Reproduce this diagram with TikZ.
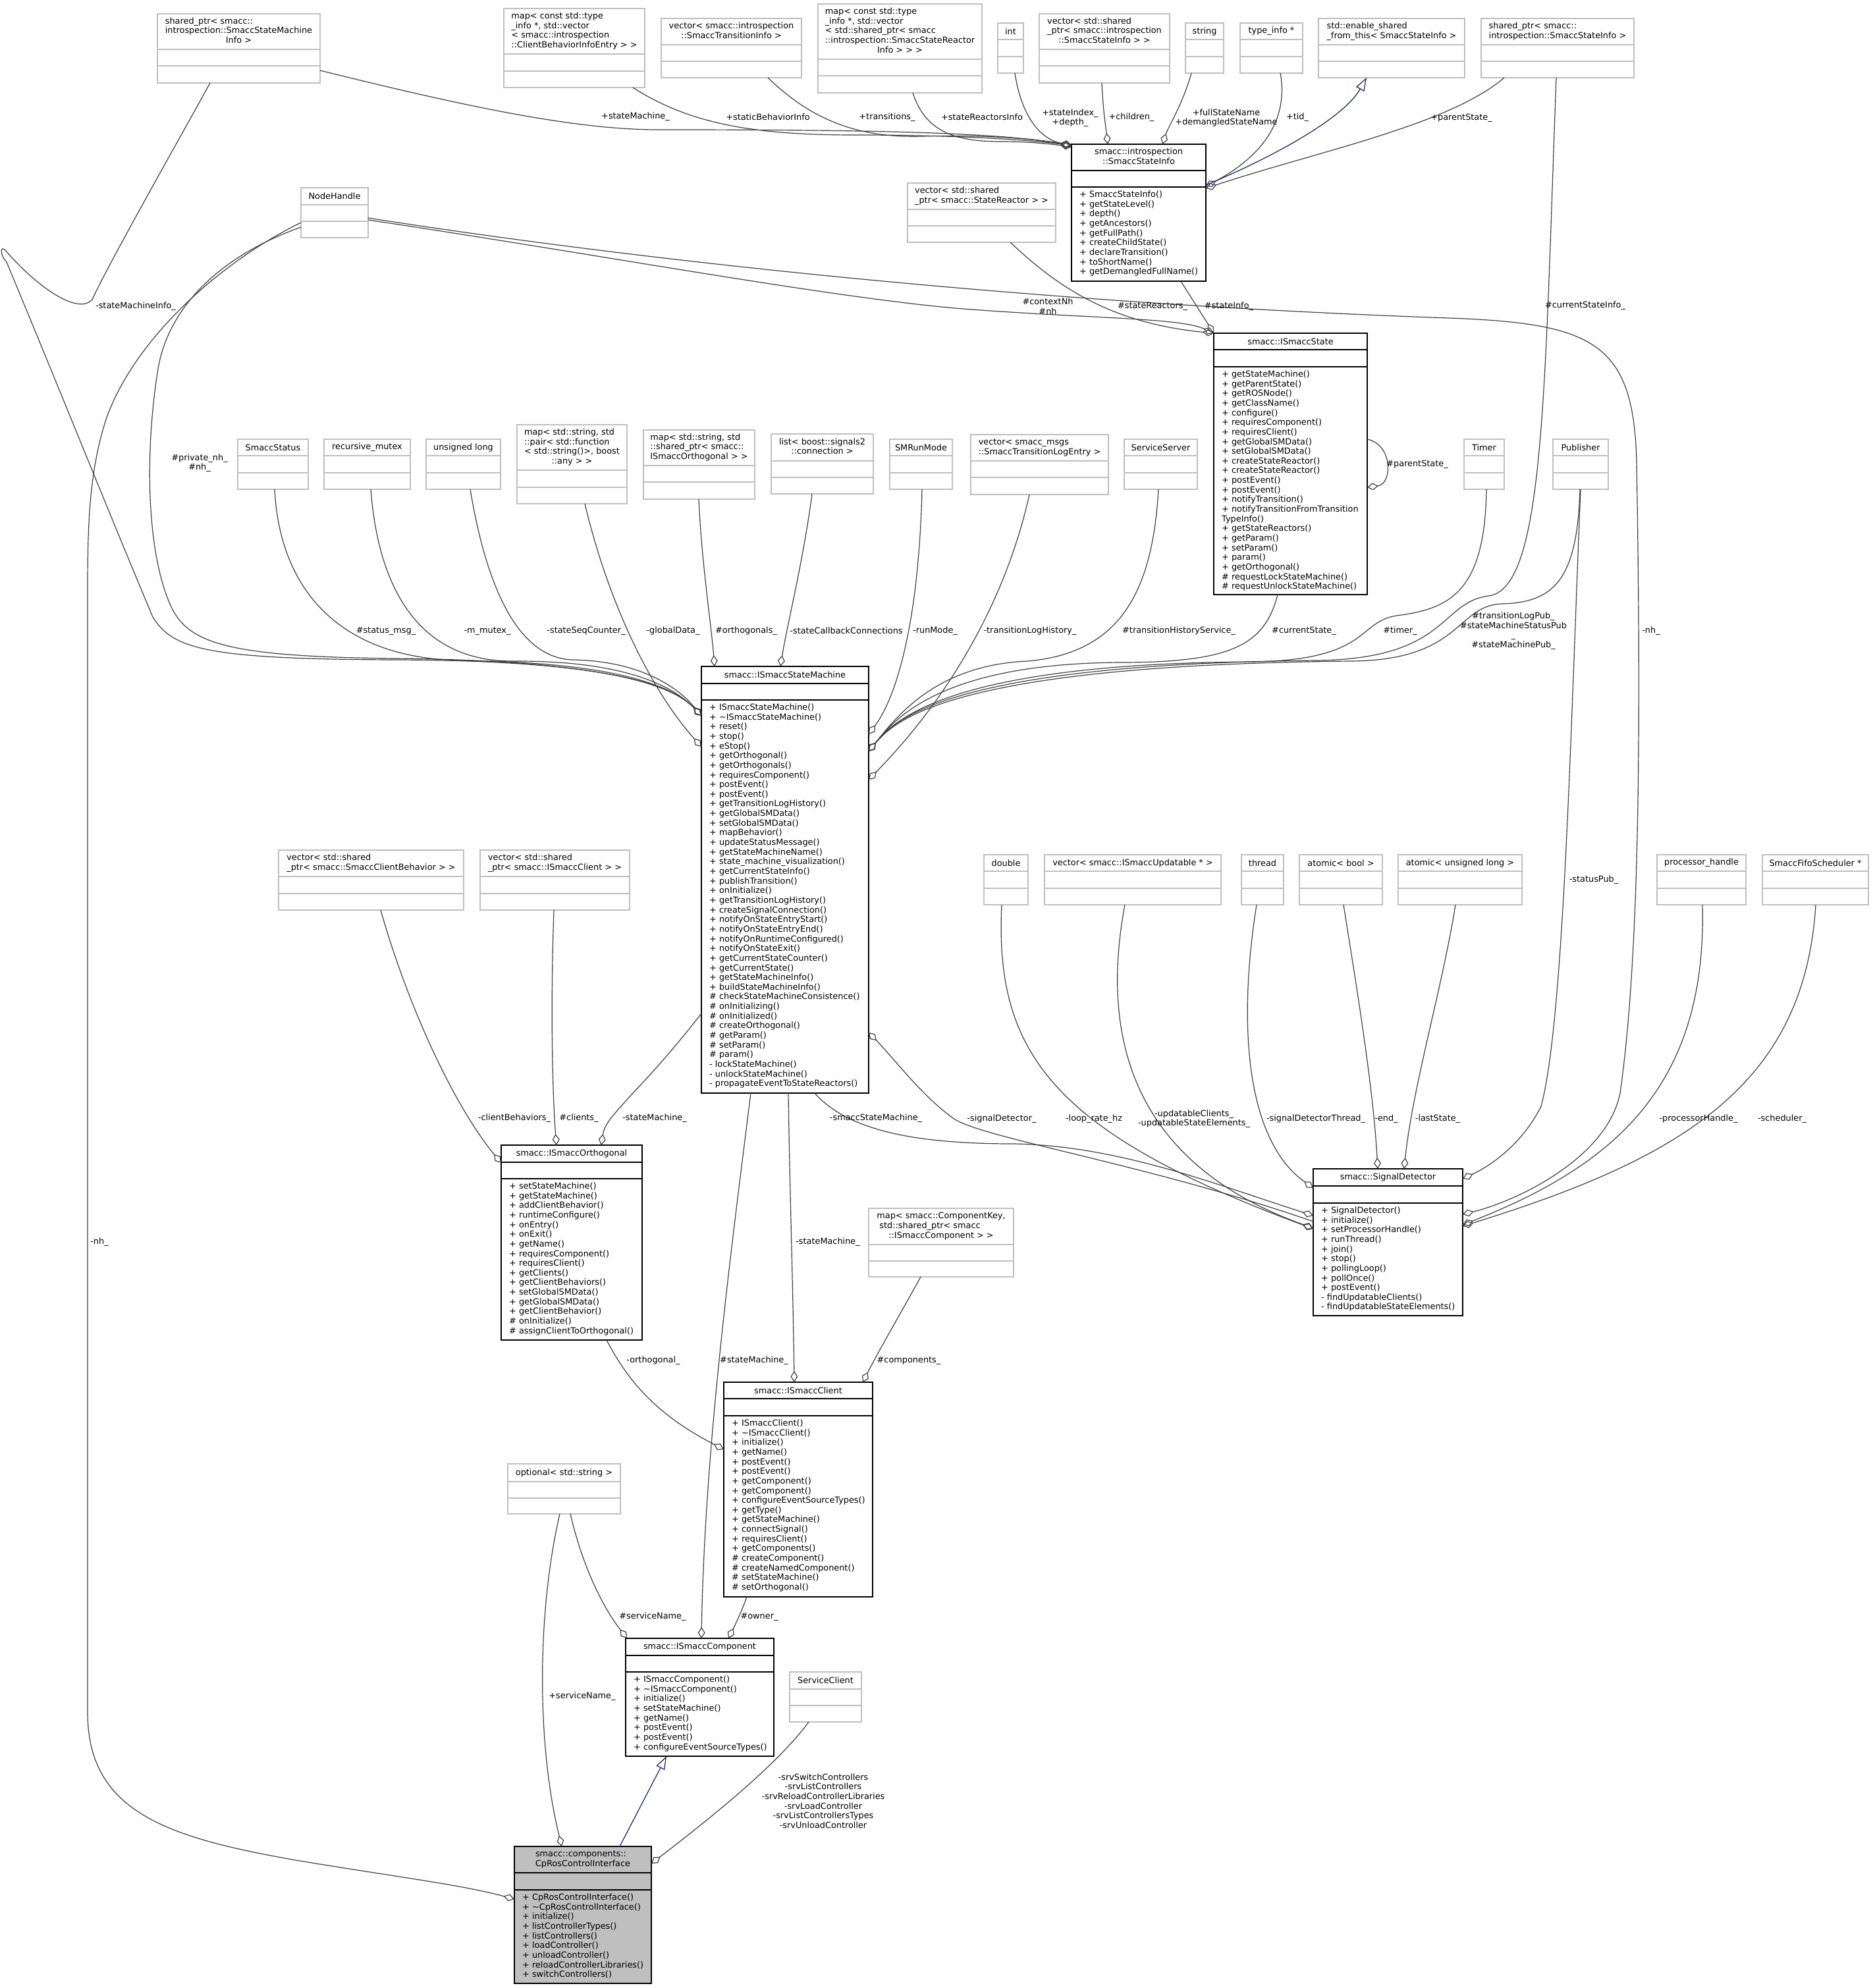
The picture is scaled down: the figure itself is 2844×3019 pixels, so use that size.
\documentclass[tikz,border=0pt]{standalone}
\usepackage{fontspec}
\setmainfont{DejaVu Sans}
\usetikzlibrary{arrows.meta}
\definecolor{grey75}{HTML}{BFBFBF}
\definecolor{grey25}{HTML}{404040}
\definecolor{midblue}{HTML}{191970}
\newcommand{\dfont}{\fontsize{12.85pt}{14.65pt}\selectfont}
% title with left-aligned lines and a centred last line
\newcommand{\ttab}[2]{\begin{tabular}{@{}l@{}}#1\\\multicolumn{1}{@{}c@{}}{#2}\end{tabular}}
% class box: style, name, x, y, width, title h, attribute h, method h, title
\newcommand{\uclass}[9]{%
  \node[#1, minimum width=#5, minimum height={#6+#7+#8}, anchor=north west] (#2) at (#3,#4) {};
  \draw[#1 sep] ([yshift=-#6]#2.north west) -- ([yshift=-#6]#2.north east);
  \draw[#1 sep] ([yshift={-#6-#7}]#2.north west) -- ([yshift={-#6-#7}]#2.north east);
  \node[ttl] (#2-t) at ([yshift={-#6/2}]#2.north) {#9};
}
% method list: name, offset of the method compartment, lines
\newcommand{\umeth}[3]{\node[mth] (#1-m) at ([xshift=12, yshift={-#2-5}]#1.north west) {\strut #3};}
\begin{document}
\begin{tikzpicture}[x=1pt,y=-1pt,
  gbox/.style={draw=grey75, fill=white, line width=1.5pt, inner sep=0pt, outer sep=0pt},
  gbox sep/.style={draw=grey75, line width=1.5pt},
  kbox/.style={draw=black, fill=white, line width=1.5pt, inner sep=0pt, outer sep=0pt},
  kbox sep/.style={draw=black, line width=1.5pt},
  mbox/.style={draw=black, fill=grey75, line width=1.5pt, inner sep=0pt, outer sep=0pt},
  mbox sep/.style={draw=black, line width=1.5pt},
  ttl/.style={inner sep=0pt, font=\dfont},
  mth/.style={inner sep=0pt, font=\dfont, align=left, anchor=north west},
  lbl/.style={inner sep=0pt, font=\dfont, align=center},
  edge/.style={draw=grey25, line width=1.2pt, -{Diamond[open, length=17pt, width=11pt]}},
  inh/.style={draw=midblue, line width=1.2pt, -{Triangle[open, length=20pt, width=14pt]}}]
\useasboundingbox (0,0) rectangle (2844,3019);
\fill[white] (0,0) rectangle (2844,3019);

% ---------- classes ----------
\uclass{gbox}{smi}{239}{21}{247}{54}{25}{26}{\ttab{shared\_ptr< smacc::\\introspection::SmaccStateMachine}{Info >}}
\uclass{gbox}{cbi}{765}{13}{214}{69}{26}{25}{\ttab{map< const std::type\\\_info *, std::vector\\< smacc::introspection}{::ClientBehaviorInfoEntry > >}}
\uclass{gbox}{sti}{1004}{28}{213}{40}{25}{25}{\ttab{vector< smacc::introspection}{::SmaccTransitionInfo >}}
\uclass{gbox}{sri}{1242}{6}{249}{84}{25}{26}{\ttab{map< const std::type\\\_info *, std::vector\\< std::shared\_ptr< smacc\\::introspection::SmaccStateReactor}{Info > > >}}
\uclass{gbox}{tint}{1515}{35}{39}{25}{26}{25}{int}
\uclass{gbox}{vsi}{1578}{21}{198}{54}{25}{26}{\ttab{vector< std::shared\\\_ptr< smacc::introspection}{::SmaccStateInfo > >}}
\uclass{gbox}{tstr}{1800}{35}{58}{25}{26}{25}{string}
\uclass{gbox}{tinfo}{1883}{35}{95}{25}{26}{25}{type\_info *}
\uclass{gbox}{esft}{2002}{28}{222}{40}{25}{25}{\ttab{std::enable\_shared}{\_from\_this< SmaccStateInfo >}}
\uclass{gbox}{spsi}{2249}{28}{232}{40}{25}{25}{\ttab{shared\_ptr< smacc::}{introspection::SmaccStateInfo >}}

\uclass{kbox}{ssi}{1627}{219}{204}{40}{25}{143}{\ttab{smacc::introspection}{::SmaccStateInfo}}
\umeth{ssi}{65}{+ SmaccStateInfo()\\+ getStateLevel()\\+ depth()\\+ getAncestors()\\+ getFullPath()\\+ createChildState()\\+ declareTransition()\\+ toShortName()\\+ getDemangledFullName()}

\uclass{gbox}{nh}{457}{285}{102}{26}{25}{25}{NodeHandle}
\uclass{gbox}{vsr}{1378}{278}{225}{40}{25}{25}{\ttab{vector< std::shared}{\_ptr< smacc::StateReactor > >}}

\uclass{kbox}{ist}{1843}{506}{233}{25}{26}{346}{smacc::ISmaccState}
\umeth{ist}{51}{+ getStateMachine()\\+ getParentState()\\+ getROSNode()\\+ getClassName()\\+ configure()\\+ requiresComponent()\\+ requiresClient()\\+ getGlobalSMData()\\+ setGlobalSMData()\\+ createStateReactor()\\+ createStateReactor()\\+ postEvent()\\+ postEvent()\\+ notifyTransition()\\+ notifyTransitionFromTransition\\TypeInfo()\\+ getStateReactors()\\+ getParam()\\+ setParam()\\+ param()\\+ getOrthogonal()\\\# requestLockStateMachine()\\\# requestUnlockStateMachine()}

\uclass{gbox}{sst}{361}{667}{107}{25}{26}{25}{SmaccStatus}
\uclass{gbox}{rmx}{492}{667}{131}{25}{26}{25}{recursive\_mutex}
\uclass{gbox}{ulg}{647}{667}{113}{25}{26}{25}{unsigned long}
\uclass{gbox}{mpf}{785}{645}{167}{69}{26}{25}{\ttab{map< std::string, std\\::pair< std::function\\< std::string()>, boost}{::any > >}}
\uclass{gbox}{mor}{977}{653}{169}{54}{25}{26}{\ttab{map< std::string, std\\::shared\_ptr< smacc::}{ISmaccOrthogonal > >}}
\uclass{gbox}{lsc}{1171}{659}{155}{41}{25}{25}{\ttab{list< boost::signals2}{::connection >}}
\uclass{gbox}{srm}{1351}{667}{95}{25}{26}{25}{SMRunMode}
\uclass{gbox}{vtl}{1474}{660}{209}{40}{25}{26}{\ttab{vector< smacc\_msgs}{::SmaccTransitionLogEntry >}}
\uclass{gbox}{ssv}{1707}{667}{111}{25}{26}{25}{ServiceServer}
\uclass{gbox}{tmr}{2223}{667}{61}{25}{26}{25}{Timer}
\uclass{gbox}{pub}{2358}{667}{84}{25}{26}{25}{Publisher}

\uclass{kbox}{sm}{1065}{1012}{254}{26}{25}{597}{smacc::ISmaccStateMachine}
\umeth{sm}{51}{+ ISmaccStateMachine()\\+ \textasciitilde ISmaccStateMachine()\\+ reset()\\+ stop()\\+ eStop()\\+ getOrthogonal()\\+ getOrthogonals()\\+ requiresComponent()\\+ postEvent()\\+ postEvent()\\+ getTransitionLogHistory()\\+ getGlobalSMData()\\+ setGlobalSMData()\\+ mapBehavior()\\+ updateStatusMessage()\\+ getStateMachineName()\\+ state\_machine\_visualization()\\+ getCurrentStateInfo()\\+ publishTransition()\\+ onInitialize()\\+ getTransitionLogHistory()\\+ createSignalConnection()\\+ notifyOnStateEntryStart()\\+ notifyOnStateEntryEnd()\\+ notifyOnRuntimeConfigured()\\+ notifyOnStateExit()\\+ getCurrentStateCounter()\\+ getCurrentState()\\+ getStateMachineInfo()\\+ buildStateMachineInfo()\\\# checkStateMachineConsistence()\\\# onInitializing()\\\# onInitialized()\\\# createOrthogonal()\\\# getParam()\\\# setParam()\\\# param()\\- lockStateMachine()\\- unlockStateMachine()\\- propagateEventToStateReactors()}

\uclass{gbox}{vcb}{423}{1291}{281}{40}{26}{25}{\ttab{vector< std::shared}{\_ptr< smacc::SmaccClientBehavior > >}}
\uclass{gbox}{vcl}{729}{1291}{227}{40}{26}{25}{\ttab{vector< std::shared}{\_ptr< smacc::ISmaccClient > >}}

\uclass{kbox}{ort}{761}{1739}{214}{26}{25}{245}{smacc::ISmaccOrthogonal}
\umeth{ort}{51}{+ setStateMachine()\\+ getStateMachine()\\+ addClientBehavior()\\+ runtimeConfigure()\\+ onEntry()\\+ onExit()\\+ getName()\\+ requiresComponent()\\+ requiresClient()\\+ getClients()\\+ getClientBehaviors()\\+ setGlobalSMData()\\+ getGlobalSMData()\\+ getClientBehavior()\\\# onInitialize()\\\# assignClientToOrthogonal()}

\uclass{gbox}{dbl}{1494}{1298}{67}{25}{26}{25}{double}
\uclass{gbox}{vup}{1586}{1298}{268}{25}{26}{25}{vector< smacc::ISmaccUpdatable * >}
\uclass{gbox}{thr}{1885}{1298}{64}{25}{26}{25}{thread}
\uclass{gbox}{abo}{1973}{1298}{126}{25}{26}{25}{atomic< bool >}
\uclass{gbox}{aul}{2123}{1298}{188}{25}{26}{25}{atomic< unsigned long >}
\uclass{gbox}{prh}{2516}{1298}{135}{25}{26}{25}{processor\_handle}
\uclass{gbox}{sfs}{2676}{1298}{161}{25}{26}{25}{SmaccFifoScheduler *}

\uclass{kbox}{sdt}{1994}{1775}{227}{26}{26}{171}{smacc::SignalDetector}
\umeth{sdt}{52}{+ SignalDetector()\\+ initialize()\\+ setProcessorHandle()\\+ runThread()\\+ join()\\+ stop()\\+ pollingLoop()\\+ pollOnce()\\+ postEvent()\\- findUpdatableClients()\\- findUpdatableStateElements()}

\uclass{gbox}{mck}{1319}{1835}{220}{55}{25}{24}{\ttab{map< smacc::ComponentKey,\\\hspace*{4pt}std::shared\_ptr< smacc}{::ISmaccComponent > >}}

\uclass{kbox}{icl}{1099}{2099}{226}{25}{26}{275}{smacc::ISmaccClient}
\umeth{icl}{51}{+ ISmaccClient()\\+ \textasciitilde ISmaccClient()\\+ initialize()\\+ getName()\\+ postEvent()\\+ postEvent()\\+ getComponent()\\+ getComponent()\\+ configureEventSourceTypes()\\+ getType()\\+ getStateMachine()\\+ connectSignal()\\+ requiresClient()\\+ getComponents()\\\# createComponent()\\\# createNamedComponent()\\\# setStateMachine()\\\# setOrthogonal()}

\uclass{gbox}{opt}{771}{2223}{171}{27}{25}{24}{optional< std::string >}

\uclass{kbox}{icm}{950}{2488}{225}{26}{25}{128}{smacc::ISmaccComponent}
\umeth{icm}{51}{+ ISmaccComponent()\\+ \textasciitilde ISmaccComponent()\\+ initialize()\\+ setStateMachine()\\+ getName()\\+ postEvent()\\+ postEvent()\\+ configureEventSourceTypes()}

\uclass{gbox}{scl}{1199}{2539}{109}{26}{25}{25}{ServiceClient}

\uclass{mbox}{cri}{781}{2804}{208}{40}{26}{142}{\ttab{smacc::components::}{CpRosControlInterface}}
\umeth{cri}{66}{+ CpRosControlInterface()\\+ \textasciitilde CpRosControlInterface()\\+ initialize()\\+ listControllerTypes()\\+ listControllers()\\+ loadController()\\+ unloadController()\\+ reloadControllerLibraries()\\+ switchControllers()}

% ---------- members of SmaccStateInfo ----------
\draw[edge] ([yshift=-86]smi.north east) .. controls (700,160) and (870,197) .. (1000,197) .. controls (1300,197) and (1500,200) .. ([yshift=-1]ssi.north west);
\draw[edge] ([xshift=196]cbi.south west) .. controls (1050,190) and (1150,205) .. (1300,205) .. controls (1450,205) and (1560,212) .. ([yshift=-2]ssi.north west);
\draw[edge] ([xshift=162]sti.south west) .. controls (1230,180) and (1300,210) .. (1400,207) .. controls (1500,204) and (1580,212) .. ([yshift=-3]ssi.north west);
\draw[edge] ([xshift=144]sri.south west) .. controls (1405,200) and (1450,215) .. (1520,215) .. controls (1570,215) and (1605,220) .. ([yshift=-4]ssi.north west);
\draw[edge] ([xshift=26]tint.south west) .. controls (1550,170) and (1575,210) .. ([yshift=-2]ssi.north west);
\draw[edge] ([xshift=95]vsi.south west) .. controls (1675,170) and (1680,200) .. ([xshift=55]ssi.north west);
\draw[edge] ([xshift=9]tstr.south west) .. controls (1795,160) and (1775,190) .. ([xshift=138]ssi.north west);
\draw[edge] ([xshift=61]tinfo.south west) .. controls (1955,170) and (1930,230) .. ([yshift=-64]ssi.north east);
\draw[inh] ([yshift=-62]ssi.north east) .. controls (1930,240) and (2040,180) .. ([xshift=73]esft.south west);
\draw[edge] ([xshift=35]spsi.south west) .. controls (2200,190) and (2000,230) .. ([yshift=-67]ssi.north east);

% ---------- members of ISmaccState ----------
\draw[edge] ([yshift=-49]nh.north east) .. controls (900,385) and (1250,450) .. (1450,468) .. controls (1650,484) and (1790,482) .. (ist.north west);
\draw[edge] ([xshift=156]vsr.south west) .. controls (1600,430) and (1680,490) .. (ist.north west);
\draw[edge] ([xshift=166]ssi.south west) -- (ist.north west);
\draw[edge] ([yshift=-161]ist.north east) .. controls (2115,675) and (2115,735) .. ([yshift=-234]ist.north east);

% ---------- members of ISmaccStateMachine ----------
\draw[edge] ([xshift=80]smi.south west) .. controls (270,215) and (165,400) .. (140,455) .. controls (120,478) and (60,440) .. (8,380) .. controls (0,372) and (0,388) .. (10,398) .. controls (90,590) and (170,790) .. (232,937) .. controls (262,985) and (310,1001) .. (600,1002) .. controls (960,1003) and (1030,1050) .. ([yshift=-75]sm.north west);
\draw[edge] ([yshift=-60]nh.north west) .. controls (330,390) and (255,470) .. (240,560) .. controls (222,670) and (220,820) .. (255,910) .. controls (280,975) and (330,997) .. (600,1000) .. controls (955,1003) and (1030,1050) .. ([yshift=-75]sm.north west);
\draw[edge] ([xshift=56]sst.south west) .. controls (425,900) and (520,1000) .. (700,1003) .. controls (960,1006) and (1030,1050) .. ([yshift=-75]sm.north west);
\draw[edge] ([xshift=71]rmx.south west) .. controls (575,900) and (640,1005) .. (780,1004) .. controls (965,1003) and (1030,1050) .. ([yshift=-75]sm.north west);
\draw[edge] ([xshift=67]ulg.south west) .. controls (740,900) and (790,1000) .. (870,1002) .. controls (980,1004) and (1035,1050) .. ([yshift=-75]sm.north west);
\draw[edge] ([xshift=103]mpf.south west) .. controls (925,920) and (990,1050) .. ([yshift=-122]sm.north west);
\draw[edge] ([xshift=84]mor.south west) .. controls (1065,850) and (1080,950) .. ([xshift=20]sm.north west);
\draw[edge] ([xshift=62]lsc.south west) .. controls (1220,850) and (1195,950) .. ([xshift=120]sm.north west);
\draw[edge] ([xshift=49]srm.south west) .. controls (1395,950) and (1360,1060) .. ([yshift=-103]sm.north east);
\draw[edge] ([xshift=89]vtl.south west) .. controls (1530,900) and (1450,1050) .. ([yshift=-172]sm.north east);
\draw[edge] ([xshift=52]ssv.south west) .. controls (1750,900) and (1700,992) .. (1560,1004) .. controls (1420,1010) and (1360,1090) .. ([yshift=-129]sm.north east);
\draw[edge] ([xshift=97]ist.south west) .. controls (1920,980) and (1870,1006) .. (1700,1006) .. controls (1430,1008) and (1360,1090) .. ([yshift=-129]sm.north east);
\draw[edge] ([xshift=34]tmr.south west) .. controls (2255,900) and (2200,925) .. (2120,935) .. controls (2060,945) and (2080,1003) .. (1900,1005) .. controls (1450,1008) and (1360,1090) .. ([yshift=-129]sm.north east);
\draw[edge] ([xshift=41]pub.south west) .. controls (2395,880) and (2360,915) .. (2280,917) .. controls (2210,920) and (2220,1003) .. (2050,1004) .. controls (1450,1010) and (1360,1092) .. ([yshift=-129]sm.north east);
\draw[edge] ([xshift=114]spsi.south west) .. controls (2345,600) and (2345,895) .. (2260,905) .. controls (2185,915) and (2200,1000) .. (2000,1003) .. controls (1450,1008) and (1360,1090) .. ([yshift=-129]sm.north east);
\draw[edge] ([yshift=-80]sdt.north west) .. controls (1750,1770) and (1500,1730) .. (1450,1700) .. controls (1400,1665) and (1360,1610) .. ([yshift=-556]sm.north east);

% ---------- members of SignalDetector ----------
\draw[edge] ([xshift=172]sm.south west) .. controls (1290,1720) and (1400,1737) .. (1540,1737) .. controls (1700,1740) and (1850,1800) .. ([yshift=-71]sdt.north west);
\draw[edge] ([xshift=27]dbl.south west) .. controls (1510,1600) and (1600,1720) .. ([yshift=-91]sdt.north west);
\draw[edge] ([xshift=122]vup.south west) .. controls (1675,1550) and (1700,1760) .. ([yshift=-90]sdt.north west);
\draw[edge] ([xshift=23]thr.south west) .. controls (1880,1550) and (1890,1730) .. ([yshift=-29]sdt.north west);
\draw[edge] ([xshift=67]abo.south west) .. controls (2060,1500) and (2085,1650) .. ([xshift=98]sdt.north west);
\draw[edge] ([xshift=87]aul.south west) .. controls (2190,1500) and (2145,1650) .. ([xshift=138]sdt.north west);
\draw[edge] ([xshift=42]pub.south west) .. controls (2385,1100) and (2375,1550) .. (2340,1680) .. controls (2310,1740) and (2260,1772) .. ([yshift=-15]sdt.north east);
\draw[edge] ([yshift=-46]nh.north east) .. controls (1000,400) and (1600,462) .. (2200,483) .. controls (2420,491) and (2480,520) .. (2485,700) .. controls (2492,1100) and (2490,1450) .. (2460,1660) .. controls (2440,1760) and (2300,1825) .. ([yshift=-69]sdt.north east);
\draw[edge] ([xshift=69]prh.south west) .. controls (2592,1650) and (2450,1770) .. ([yshift=-85]sdt.north east);
\draw[edge] ([xshift=81]sfs.south west) .. controls (2740,1650) and (2550,1760) .. ([yshift=-87]sdt.north east);

% ---------- orthogonal, client, component ----------
\draw[edge] ([yshift=-527]sm.north west) .. controls (1010,1610) and (970,1650) .. (950,1672) .. controls (935,1690) and (918,1705) .. ([xshift=152]ort.north west);
\draw[edge] ([xshift=155]vcb.south west) .. controls (620,1530) and (690,1680) .. ([yshift=-27]ort.north west);
\draw[edge] ([xshift=112]vcl.south west) .. controls (835,1550) and (840,1680) .. ([xshift=84]ort.north west);
\draw[edge] ([xshift=132]sm.south west) .. controls (1199,1800) and (1204,1950) .. ([xshift=107]icl.north west);
\draw[edge] ([xshift=75]sm.south west) .. controls (1110,1900) and (1070,2200) .. ([xshift=115]icm.north west);
\draw[edge] ([xshift=79]mck.south west) .. controls (1370,1990) and (1335,2050) .. ([xshift=211]icl.north west);
\draw[edge] ([xshift=160]ort.south west) .. controls (960,2110) and (1010,2155) .. ([yshift=-102]icl.north west);
\draw[edge] ([xshift=35]icl.south west) .. controls (1125,2450) and (1115,2470) .. ([xshift=156]icm.north west);
\draw[edge] ([xshift=95]opt.south west) .. controls (885,2380) and (915,2440) .. ([xshift=2]icm.north west);
\draw[edge] ([xshift=79]opt.south west) .. controls (815,2450) and (815,2650) .. ([xshift=72]cri.north west);
\draw[inh] ([xshift=160]cri.north west) -- ([xshift=62]icm.south west);
\draw[edge] ([xshift=29]scl.south west) .. controls (1180,2680) and (1080,2760) .. ([yshift=-26]cri.north east);
\draw[edge] ([yshift=-53]nh.north west) .. controls (330,400) and (200,520) .. (160,640) .. controls (135,720) and (133,800) .. (133,900) -- (133,2600) .. controls (133,2750) and (250,2790) .. (450,2825) .. controls (600,2850) and (700,2862) .. ([yshift=-80]cri.north west);

% ---------- edge labels ----------
\node[lbl] (l1) at (965,177) {+stateMachine\_};
\node[lbl] (l2) at (1166,178) {+staticBehaviorInfo};
\node[lbl] (l3) at (1347,178) {+transitions\_};
\node[lbl] (l4) at (1491,178) {+stateReactorsInfo};
\node[lbl] (l5) at (1625,179) {+stateIndex\_\\+depth\_};
\node[lbl] (l6) at (1718,178) {+children\_};
\node[lbl] (l7) at (1862,179) {+fullStateName\\+demangledStateName};
\node[lbl] (l8) at (1970,178) {+tid\_};
\node[lbl] (l9) at (2219,179) {+parentState\_};
\node[lbl] (l10) at (206,465) {-stateMachineInfo\_};
\node[lbl] (l11) at (303,703) {\#private\_nh\_\\\#nh\_};
\node[lbl] (l12) at (1591,465) {\#contextNh\\\#nh};
\node[lbl] (l13) at (1750,465) {\#stateReactors\_};
\node[lbl] (l14) at (1866,465) {\#stateInfo\_};
\node[lbl] (l15) at (2407,464) {\#currentStateInfo\_};
\node[lbl] (l16) at (2152,705) {\#parentState\_};
\node[lbl] (l17) at (586,958) {\#status\_msg\_};
\node[lbl] (l18) at (740,958) {-m\_mutex\_};
\node[lbl] (l19) at (890,958) {-stateSeqCounter\_};
\node[lbl] (l20) at (1022,958) {-globalData\_};
\node[lbl] (l21) at (1133,958) {\#orthogonals\_};
\node[lbl] (l22) at (1285,958) {-stateCallbackConnections};
\node[lbl] (l23) at (1420,958) {-runMode\_};
\node[lbl] (l24) at (1564,958) {-transitionLogHistory\_};
\node[lbl] (l25) at (1790,958) {\#transitionHistoryService\_};
\node[lbl] (l26) at (1980,958) {\#currentState\_};
\node[lbl] (l27) at (2126,958) {\#timer\_};
\node[lbl] (l28) at (2298,958) {\#transitionLogPub\_\\\#stateMachineStatusPub\\\_\\\#stateMachinePub\_};
\node[lbl] (l29) at (2507,958) {-nh\_};
\node[lbl] (l30) at (2420,1336) {-statusPub\_};
\node[lbl] (l31) at (1330,1698) {-smaccStateMachine\_};
\node[lbl] (l32) at (1521,1699) {-signalDetector\_};
\node[lbl] (l33) at (1661,1699) {-loop\_rate\_hz};
\node[lbl] (l34) at (1813,1699) {-updatableClients\_\\-updatableStateElements\_};
\node[lbl] (l35) at (1998,1699) {-signalDetectorThread\_};
\node[lbl] (l36) at (2105,1699) {-end\_};
\node[lbl] (l37) at (2183,1699) {-lastState\_};
\node[lbl] (l38) at (2579,1699) {-processorHandle\_};
\node[lbl] (l39) at (2706,1699) {-scheduler\_};
\node[lbl] (l40) at (781,1698) {-clientBehaviors\_};
\node[lbl] (l41) at (879,1698) {\#clients\_};
\node[lbl] (l42) at (994,1698) {-stateMachine\_};
\node[lbl] (l43) at (1257,1886) {-stateMachine\_};
\node[lbl] (l44) at (1145,2066) {\#stateMachine\_};
\node[lbl] (l45) at (1380,2066) {\#components\_};
\node[lbl] (l46) at (992,2066) {-orthogonal\_};
\node[lbl] (l47) at (991,2455) {\#serviceName\_};
\node[lbl] (l48) at (1153,2455) {\#owner\_};
\node[lbl] (l49) at (884,2576) {+serviceName\_};
\node[lbl] (l50) at (1250,2735) {-srvSwitchControllers\\-srvListControllers\\-srvReloadControllerLibraries\\-srvLoadController\\-srvListControllersTypes\\-srvUnloadController};
\node[lbl] (l51) at (151,1886) {-nh\_};
\end{tikzpicture}
\end{document}
